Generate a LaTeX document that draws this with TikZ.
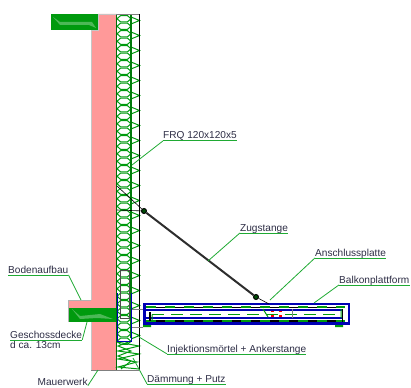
\documentclass[tikz,border=0pt]{standalone}
\usepackage{fontspec}
\setmainfont{Liberation Sans}
\usetikzlibrary{arrows}
\definecolor{wallpink}{HTML}{FF9999}
\definecolor{slabgreen}{HTML}{009A0E}
\definecolor{leadgreen}{HTML}{1FAA33}
\definecolor{platblue}{HTML}{0000B4}
\definecolor{labelink}{HTML}{2C2C44}
\tikzset{
  lbl/.style={anchor=base west, inner sep=0pt, text depth=1.7pt, text=labelink, font=\fontsize{10.1}{11}\selectfont},
  leader/.style={draw=leadgreen, line width=0.8pt},
  wool/.style={draw=slabgreen, line width=1pt},
  joint/.style={circle, draw=black, fill=slabgreen!50!black, line width=1pt, inner sep=0pt, minimum size=5pt}
}
\begin{document}
\begin{tikzpicture}[x=1pt,y=-1pt]
  \useasboundingbox (0,0) rectangle (411,387);
  % wall and floor
  \fill[wallpink, draw=gray!45, line width=0.5pt] (98,14) -- (116,14) -- (116,370) -- (91,370) -- (91,30) -- (98,30) -- cycle;
  \fill[wallpink] (68,300) rectangle (92,308);
  \fill[slabgreen] (51,14) rectangle (98,30);
  \fill[slabgreen!70!white] (53,17) -- (60,22) -- (92,22) -- (96,28) -- (89,25) -- (60,25) -- cycle;
  \fill[slabgreen] (68,308) rectangle (117,322);
  \fill[slabgreen!70!white] (72,309) -- (80,316) -- (100,314) -- (113,319) -- (97,318) -- (80,319) -- cycle;
  \draw[gray!60, line width=0.5pt] (68,300) -- (91,300) (68,300) -- (68,322);
  % insulation
  \foreach \y in {15,22.5,...,337.5} {
    \draw[wool] (117,\y+3.75) -- (120.5,\y+0.7) -- (127.5,\y+0.7) -- (131,\y+3.75) -- (127.5,\y+6.8) -- (120.5,\y+6.8) -- cycle;
  }
  \foreach \y in {17,32,...,332} {
    \draw[wool] (131,\y) -- (139.5,\y+3.5) -- (131,\y+7);
  }
  \draw[wool] (117,342) -- (139,346) -- (118,351) -- (139,354) -- (118,359) -- (137,362) -- (118,367) -- (139,369);
  \draw[wool] (131,341) -- (118,346) -- (131,351) -- (118,356) -- (131,361) -- (121,369);
  \draw[slabgreen!70!black, line width=1.2pt] (116.5,14) -- (116.5,370);
  \draw[slabgreen!80!black, line width=1.2pt] (131,14) -- (131,338);
  \draw[black, line width=1pt] (139,14) -- (139,370);
  \draw[gray, line width=0.7pt] (116,14) -- (139,14) (91,370) -- (139,370);
  \draw[gray!60!black, line width=0.6pt] (120,270) rectangle (129,318);
  \draw[gray, line width=0.7pt] (131,309) -- (143,309) (131,327) -- (143,327);
  \draw[platblue, line width=1.2pt] (117.5,293) -- (117.5,341.5) -- (131.5,341.5) -- (131.5,293);
  % balcony platform
  \fill[black] (146,320) rectangle (345,322);
  \draw[black, line width=1pt] (146,307) -- (345,307);
  \draw[slabgreen, line width=1.4pt, dash pattern=on 10pt off 9pt] (146,307) -- (345,307) (146,321) -- (345,321);
  \draw[slabgreen, line width=1pt, dash pattern=on 12pt off 7pt] (152,314.5) -- (341,314.5);
  \draw[platblue, line width=2.4pt] (144.5,304) -- (349,304) -- (349,323.5) -- (144.5,323.5) -- cycle;
  \draw[platblue, line width=2.2pt] (144.5,309.8) -- (343,309.8) (144.5,318) -- (343,318);
  \draw[black, line width=1.4pt] (150,312) -- (150,321) (342.5,309) -- (342.5,322);
  \draw[slabgreen, line width=1pt] (152,321) -- (152,314.5) (263,309) -- (268,317) (341,309) -- (341,318);
  \draw[gray, line width=0.8pt] (292,309) -- (292,318);
  \draw[red, line width=1.2pt, dash pattern=on 2.5pt off 5.5pt] (271,311.5) -- (283,311.5) (271,316) -- (283,316);
  \fill[slabgreen] (143,325) rectangle (151,327) (335,325) rectangle (343,327);
  % tie rod
  \node (topjoint) [joint] at (144,211) {};
  \node (lowjoint) [joint] at (256,297) {};
  \coordinate (anchora) at (117,186);
  \coordinate (anchorb) at (117,210);
  \coordinate (platetop) at (269,304);
  \path[draw=black, line width=0.6pt]
  (anchora) edge (topjoint)
  (anchorb) edge (topjoint)
  (lowjoint) edge (platetop);
  \path[draw=gray!35!black, line width=2pt] (topjoint) edge (lowjoint);
  % labels
  \node (frq) [lbl] at (163,139) {FRQ 120x120x5};
  \node (zug) [lbl] at (240,231) {Zugstange};
  \node (ansch) [lbl] at (315,256) {Anschlussplatte};
  \node (balk) [lbl] at (339,283) {Balkonplattform};
  \node (boden) [lbl] at (8,273) {Bodenaufbau};
  \node (decke) [lbl] at (10,338) {Geschossdecke};
  \node (dicke) [lbl] at (10,348) {d ca. 13cm};
  \node (mauer) [lbl, text depth=0pt] at (37.5,385.5) {Mauerwerk};
  \node (inj) [lbl] at (167,352) {Injektionsmörtel + Ankerstange};
  \node (daem) [lbl] at (147,382) {Dämmung + Putz};
  \coordinate (frq-end) at (132,165);
  \coordinate (zug-end) at (208,261);
  \coordinate (ansch-end) at (270,300);
  \coordinate (balk-end) at (314,303);
  \coordinate (boden-end) at (81,300);
  \coordinate (decke-end) at (87,322);
  \coordinate (mauer-end) at (98,370);
  \coordinate (inj-end) at (139,337);
  \coordinate (daem-end) at (133,358);
  \path[leader]
  (frq.south west) edge (frq.south east)
                   edge (frq-end)
  (zug.south west) edge (zug.south east)
                   edge (zug-end)
  (ansch.south west) edge (ansch.south east)
                   edge (ansch-end)
  (balk.south west) edge (balk.south east)
                   edge (balk-end)
  (boden.south west) edge (boden.south east)
  (boden.south east) edge (boden-end)
  (decke.south west) edge (decke.south east)
  (decke.south east) edge (decke-end)
  (mauer.south east) edge (mauer-end)
  (inj.south west) edge (inj.south east)
                   edge (inj-end)
  (daem.south west) edge (daem.south east)
                   edge (daem-end)
;
\end{tikzpicture}
\end{document}
